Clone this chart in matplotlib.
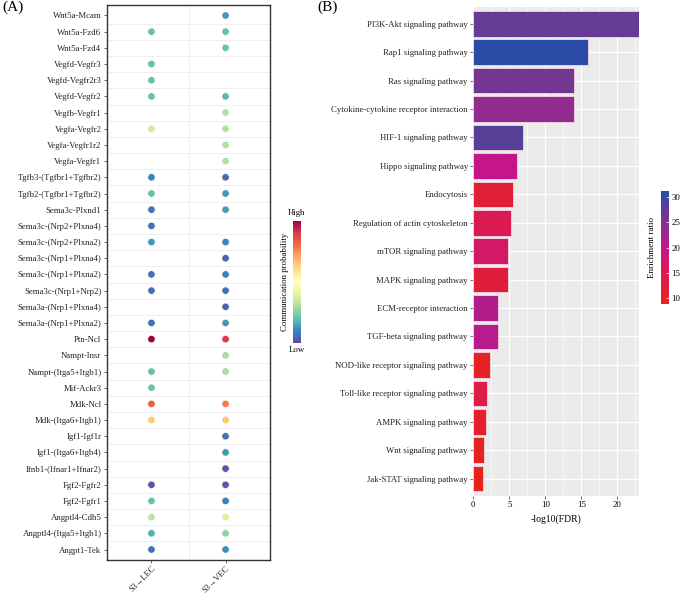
import matplotlib
matplotlib.use("Agg")
import matplotlib.pyplot as plt
import matplotlib.colorbar as mcolorbar
from matplotlib.colors import LinearSegmentedColormap, Normalize
import numpy as np

plt.rcParams['font.family'] = ['Liberation Serif', 'DejaVu Serif']

# ---- panel A data (top to bottom), None = no interaction ----
pairs = [
    "Wnt5a-Mcam", "Wnt5a-Fzd6", "Wnt5a-Fzd4", "Vegfd-Vegfr3", "Vegfd-Vegfr2r3",
    "Vegfd-Vegfr2", "Vegfb-Vegfr1", "Vegfa-Vegfr2", "Vegfa-Vegfr1r2", "Vegfa-Vegfr1",
    "Tgfb3-(Tgfbr1+Tgfbr2)", "Tgfb2-(Tgfbr1+Tgfbr2)", "Sema3c-Plxnd1",
    "Sema3c-(Nrp2+Plxna4)", "Sema3c-(Nrp2+Plxna2)", "Sema3c-(Nrp1+Plxna4)",
    "Sema3c-(Nrp1+Plxna2)", "Sema3c-(Nrp1+Nrp2)", "Sema3a-(Nrp1+Plxna4)",
    "Sema3a-(Nrp1+Plxna2)", "Ptn-Ncl", "Nampt-Insr", "Nampt-(Itga5+Itgb1)",
    "Mif-Ackr3", "Mdk-Ncl", "Mdk-(Itga6+Itgb1)", "Igf1-Igf1r", "Igf1-(Itga6+Itgb4)",
    "Ifnb1-(Ifnar1+Ifnar2)", "Fgf2-Fgfr2", "Fgf2-Fgfr1", "Angptl4-Cdh5",
    "Angptl4-(Itga5+Itgb1)", "Angpt1-Tek",
]
lec_prob = [
    None, 0.20, None, 0.20, 0.20, 0.20, None, 0.37, None, None,
    0.10, 0.20, 0.06, 0.06, 0.13, None, 0.06, 0.06, None, 0.06,
    1.00, None, 0.20, 0.21, 0.83, 0.65, None, None, None, 0.01,
    0.20, 0.33, 0.17, 0.06,
]
vec_prob = [
    0.13, 0.20, 0.21, None, None, 0.18, 0.31, 0.31, 0.31, 0.31,
    0.05, 0.13, 0.14, None, 0.10, 0.03, 0.10, 0.07, 0.03, 0.13,
    0.90, 0.30, 0.30, None, 0.78, 0.65, 0.07, 0.13, 0.02, 0.02,
    0.09, 0.38, 0.26, 0.12,
]
sources = ["S3\u2192LEC", "S3\u2192VEC"]

# ---- panel B data (top to bottom) ----
pathways = [
    "PI3K-Akt signaling pathway", "Rap1 signaling pathway", "Ras signaling pathway",
    "Cytokine-cytokine receptor interaction", "HIF-1 signaling pathway",
    "Hippo signaling pathway", "Endocytosis", "Regulation of actin cytoskeleton",
    "mTOR signaling pathway", "MAPK signaling pathway", "ECM-receptor interaction",
    "TGF-beta signaling pathway", "NOD-like receptor signaling pathway",
    "Toll-like receptor signaling pathway", "AMPK signaling pathway",
    "Wnt signaling pathway", "Jak-STAT signaling pathway",
]
log_fdr = [23.05, 16.0, 14.0, 14.0, 6.95, 6.0, 5.5, 5.2, 4.8, 4.8, 3.4, 3.4,
           2.3, 1.9, 1.7, 1.5, 1.4]
enrich_ratio = [27, 31.2, 26, 24, 28, 20, 12, 15, 17, 12.5, 21.5, 21,
                10, 14, 10.5, 9.5, 8.9]

fig = plt.figure(figsize=(6.85, 5.93), dpi=100)

# ================= Panel A =================
axA = fig.add_axes([0.1562, 0.0556, 0.238, 0.936])
spec = plt.get_cmap('Spectral_r')
for j, vals in enumerate([lec_prob, vec_prob]):
    ys = [i for i, v in enumerate(vals) if v is not None]
    cs = [v for v in vals if v is not None]
    axA.scatter([j] * len(ys), ys, c=cs, cmap=spec, vmin=0, vmax=1, s=28,
                edgecolors='white', linewidths=0.4, zorder=3)
for i in range(len(pairs) - 1):
    axA.axhline(i + 0.5, color='#ececec', lw=0.6, zorder=1)
axA.axvline(0.5, color='#ececec', lw=0.6, zorder=1)
axA.set_xlim(-0.6, 1.6)
axA.set_ylim(len(pairs) - 0.35, -0.65)
axA.set_yticks(range(len(pairs)))
axA.set_yticklabels(pairs, fontsize=6.3, color='#222222')
axA.set_xticks(range(len(sources)))
axA.set_xticklabels(sources, fontsize=6.0, rotation=45, ha='right', va='top',
                    rotation_mode='anchor', color='#222222')
axA.tick_params(length=2, width=0.5, color='#333333', pad=2)
axA.tick_params(axis='x', pad=1)
for sp in axA.spines.values():
    sp.set_linewidth(1.0)
    sp.set_color('#333333')

caxA = fig.add_axes([0.4273, 0.4221, 0.0121, 0.2052])
cbA = mcolorbar.ColorbarBase(caxA, cmap=spec, norm=Normalize(0, 1))
cbA.outline.set_visible(False)
cbA.set_ticks([])
caxA.text(0.5, 1.03, "High", transform=caxA.transAxes, ha='center', va='bottom',
          fontsize=6.3)
caxA.text(0.5, -0.03, "Low", transform=caxA.transAxes, ha='center', va='top',
          fontsize=6.3)
caxA.text(-0.9, 0.5, "Communication probability", transform=caxA.transAxes,
          rotation=90, ha='center', va='center', fontsize=6.3)

# ================= Panel B =================
ratio_cmap = LinearSegmentedColormap.from_list(
    'ratio', [(0.0, '#e8231c'), (0.3, '#d91a56'), (0.5, '#c4168a'),
              (0.75, '#7a358f'), (1.0, '#2a4ca4')])
rnorm = Normalize(8.9, 31.2)

axB = fig.add_axes([0.691, 0.1641, 0.2423, 0.8246])
axB.set_facecolor('#ebebeb')
y = np.arange(len(pathways))
axB.barh(y, log_fdr, height=0.9, color=ratio_cmap(rnorm(enrich_ratio)),
         edgecolor='#f4d8e4', linewidth=0.6, zorder=3)
axB.set_xlim(0, 23.06)
axB.set_ylim(len(pathways) - 0.4, -0.6)
axB.set_xticks([0, 5, 10, 15, 20])
axB.set_xticks([2.5, 7.5, 12.5, 17.5, 22.5], minor=True)
axB.set_yticks(y)
axB.set_yticklabels(pathways, fontsize=6.3, color='#222222')
axB.tick_params(axis='both', which='major', length=2, width=0.5, color='#333333',
                labelsize=6.3, pad=2)
axB.tick_params(axis='x', which='minor', length=0)
axB.grid(which='major', color='white', lw=0.9, zorder=0)
axB.grid(which='minor', axis='x', color='white', lw=0.45, zorder=0)
axB.set_axisbelow(True)
for sp in axB.spines.values():
    sp.set_visible(False)
axB.set_xlabel("-log10(FDR)", fontsize=7, labelpad=4)

caxB = fig.add_axes([0.9645, 0.4874, 0.0117, 0.1906])
cbB = mcolorbar.ColorbarBase(caxB, cmap=ratio_cmap, norm=rnorm)
cbB.outline.set_visible(False)
cbB.set_ticks([10, 15, 20, 25, 30])
caxB.tick_params(length=2, width=0.5, color='white', direction='in', labelsize=6.3,
                 pad=2)
caxB.text(-1.1, 0.5, "Enrichment ratio", transform=caxB.transAxes, rotation=90,
          ha='center', va='center', fontsize=6.5)

# panel labels
fig.text(0.003, 0.987, "(A)", fontsize=11, ha='left', va='center')
fig.text(0.463, 0.987, "(B)", fontsize=11, ha='left', va='center')

fig.savefig("out.png", dpi=100)
